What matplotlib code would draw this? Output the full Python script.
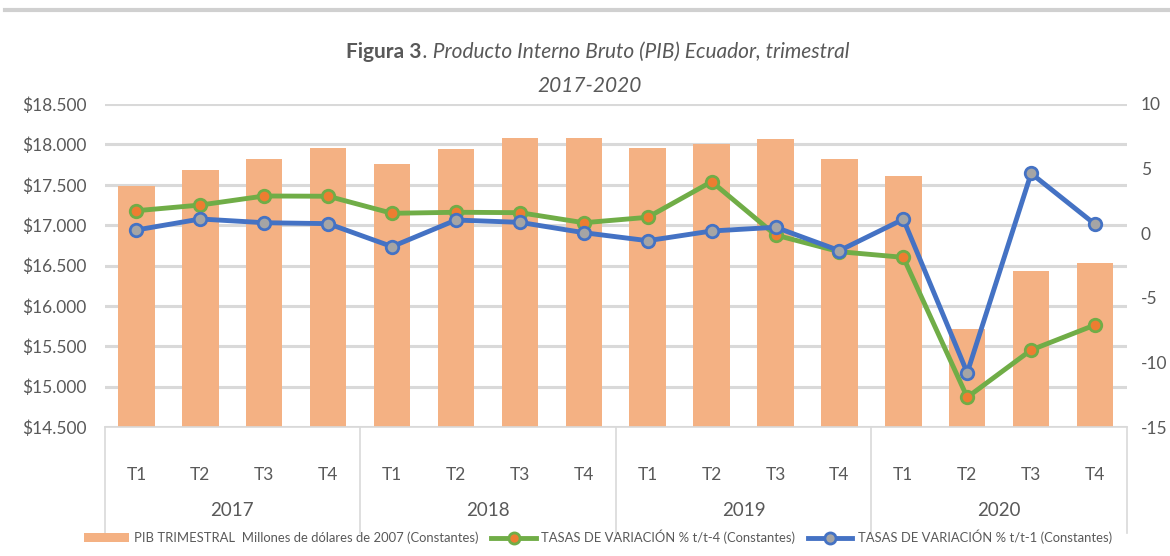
import matplotlib
matplotlib.use("Agg")
import matplotlib.pyplot as plt
from matplotlib import font_manager
from matplotlib.patches import Patch
from matplotlib.lines import Line2D
import matplotlib.transforms as mtransforms

names = {f.name for f in font_manager.fontManager.ttflist}
FONT = "Lato" if "Lato" in names else "DejaVu Sans"
plt.rcParams['font.family'] = [FONT, 'DejaVu Sans']

years = ["2017", "2018", "2019", "2020"]
quarters = ["T1", "T2", "T3", "T4"]
pib = [17490, 17680, 17820, 17950,
       17760, 17940, 18075, 18083,
       17960, 18008, 18062, 17820,
       17612, 15709, 16429, 16525]
tasa_t4 = [1.74, 2.18, 2.88, 2.86,
           1.54, 1.62, 1.59, 0.81,
           1.23, 3.99, -0.14, -1.43,
           -1.87, -12.7, -9.04, -7.1]
tasa_t1 = [0.25, 1.10, 0.81, 0.74,
           -1.04, 1.02, 0.84, 0.04,
           -0.58, 0.17, 0.46, -1.35,
           1.08, -10.8, 4.63, 0.69]
left_ticks = [14500, 15000, 15500, 16000, 16500, 17000, 17500, 18000, 18500]
right_ticks = [-15, -10, -5, 0, 5, 10]

TXT = "#595959"
BAR = "#F4B183"
GREEN = "#70AD47"
ORANGE = "#ED7D31"
BLUE = "#4472C4"
GRAY = "#A5A5A5"
GRID = "#D9D9D9"

W, H = 1170, 556
fig = plt.figure(figsize=(W / 100, H / 100), dpi=100)
x0, x1 = 104.5, 1127
y0, y1 = 104, 427
ax = fig.add_axes([x0 / W, 1 - y1 / H, (x1 - x0) / W, (y1 - y0) / H])
ax2 = ax.twinx()

n = len(pib)
xs = list(range(n))
ax.bar(xs, pib, width=0.57, color=BAR, zorder=2)
ax.set_ylim(14500, 18500)
ax.set_yticks(left_ticks)
ax.set_yticklabels(["$" + f"{v:,}".replace(",", ".") for v in left_ticks],
                   fontsize=12.5, color=TXT)
ax.set_xlim(-0.5, n - 0.5)
ax.grid(axis='y', color=GRID, linewidth=2.2, zorder=0)
ax.set_axisbelow(True)
for s in ["top", "left", "right"]:
    ax.spines[s].set_visible(False)
ax.spines["bottom"].set_color(GRID)
ax.spines["bottom"].set_linewidth(1.2)
ax.tick_params(axis='y', length=0, pad=13)
ax.set_xticks(xs)
ax.set_xticklabels(quarters * len(years), fontsize=12.5, color=TXT)
ax.tick_params(axis='x', length=0, pad=29)

ax2.plot(xs, tasa_t4, color=GREEN, linewidth=3.5, marker='o', markersize=9,
         markerfacecolor=ORANGE, markeredgecolor=GREEN, markeredgewidth=2, zorder=3)
ax2.plot(xs, tasa_t1, color=BLUE, linewidth=3.5, marker='o', markersize=9,
         markerfacecolor=GRAY, markeredgecolor=BLUE, markeredgewidth=2, zorder=4)
ax2.set_ylim(-15, 10)
ax2.set_yticks(right_ticks)
ax2.set_yticklabels([str(v) for v in right_ticks], fontsize=12.5, color=TXT)
ax2.tick_params(axis='y', length=0, pad=10)
for s in ["top", "left", "right", "bottom"]:
    ax2.spines[s].set_visible(False)

# group separators and year labels
trans = mtransforms.blended_transform_factory(ax.transData, fig.transFigure)
for b in [-0.5, 3.5, 7.5, 11.5, 15.5]:
    ax.add_line(Line2D([b, b], [1 - y1 / H, 1 - 533 / H], transform=trans,
                       color=GRID, linewidth=1.2, clip_on=False))
for i, yr in enumerate(years):
    fig.text(0, 1 - 511 / H, yr, transform=trans, fontsize=13.5, color=TXT,
             ha='center', va='center').set_x(i * 4 + 1.5)

# top band
fig.add_artist(Line2D([5 / W, 1], [1 - 10 / H, 1 - 10 / H], transform=fig.transFigure,
                      color="#D0D0D0", linewidth=3))

# title
fig.text(422 / W, 1 - 52 / H, "Figura 3", fontsize=15, fontweight='bold', color=TXT,
         ha='right', va='center')
fig.text(423 / W, 1 - 52 / H, ". Producto Interno Bruto (PIB) Ecuador, trimestral",
         fontsize=15, style='italic', color=TXT, ha='left', va='center')
fig.text(590 / W, 1 - 86 / H, "2017-2020", fontsize=15, style='italic', color=TXT,
         ha='center', va='center')

handles = [
    Patch(facecolor=BAR, edgecolor='none'),
    Line2D([], [], color=GREEN, linewidth=3.5, marker='o', markersize=8,
           markerfacecolor=ORANGE, markeredgecolor=GREEN, markeredgewidth=2),
    Line2D([], [], color=BLUE, linewidth=3.5, marker='o', markersize=8,
           markerfacecolor=GRAY, markeredgecolor=BLUE, markeredgewidth=2),
]
labels = ["PIB TRIMESTRAL  Millones de dólares de 2007 (Constantes)",
          "TASAS DE VARIACIÓN % t/t-4 (Constantes)",
          "TASAS DE VARIACIÓN % t/t-1 (Constantes)"]
fig.legend(handles, labels, loc='center', bbox_to_anchor=(598 / W, 1 - 537 / H),
           ncol=3, frameon=False, fontsize=9.4, handlelength=3.4, handletextpad=0.4,
           columnspacing=1.0, labelcolor=TXT)

fig.savefig("out.png", dpi=100)
